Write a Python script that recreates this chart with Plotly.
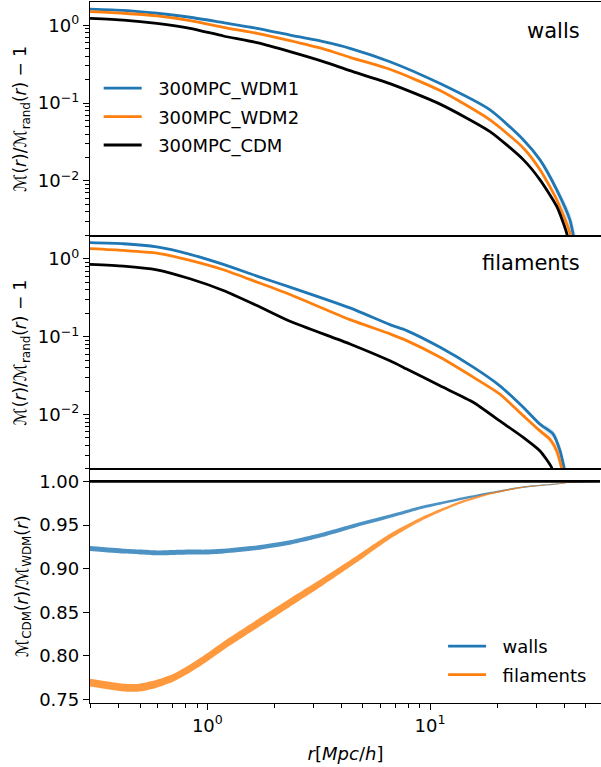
import plotly.graph_objects as go
from plotly.subplots import make_subplots

# ---------------- data: walls ----------------
r_walls_wdm1 = [0.297, 0.420, 0.593, 0.836, 1.18, 1.67, 2.35, 3.32, 4.37, 6.61, 11.1, 18.6, 26.3, 31.2, 37.1, 42.5, 44.0, 45.0]
walls_wdm1 = [1.62, 1.56, 1.43, 1.27, 1.08, 0.915, 0.75, 0.616, 0.506, 0.34, 0.178, 0.0817, 0.0336, 0.0186, 0.00766, 0.00315, 0.00203, 0.0015]
walls_wdm1_relerr = [0, 0, 0, 0, 0, 0, 0, 0, 0, 0, 0, 0.01, 0.03, 0.06, 0.12, 0.25, 0.35, 0.4]
r_walls_wdm2 = [0.297, 0.420, 0.593, 0.836, 1.18, 1.67, 2.35, 3.32, 4.37, 6.61, 11.1, 18.6, 26.3, 31.2, 37.1, 42.5, 43.5]
walls_wdm2 = [1.50, 1.43, 1.32, 1.15, 0.942, 0.789, 0.635, 0.497, 0.388, 0.272, 0.145, 0.0608, 0.0263, 0.0139, 0.00571, 0.00214, 0.0015]
walls_wdm2_relerr = [0, 0, 0, 0, 0, 0, 0, 0, 0, 0, 0, 0.01, 0.03, 0.05, 0.1, 0.2, 0.3]
r_walls_cdm = [0.297, 0.420, 0.593, 0.836, 1.18, 1.67, 2.35, 3.32, 4.37, 6.61, 11.1, 18.6, 26.3, 31.2, 37.1, 41.1, 42.0]
walls_cdm = [1.23, 1.17, 1.06, 0.915, 0.729, 0.598, 0.458, 0.341, 0.261, 0.178, 0.097, 0.043, 0.0186, 0.0103, 0.00468, 0.00213, 0.0015]
walls_cdm_relerr = [0, 0, 0, 0, 0, 0, 0, 0, 0, 0, 0, 0.01, 0.02, 0.04, 0.08, 0.15, 0.2]

# ---------------- data: filaments ----------------
r_fil_wdm1 = [0.297, 0.420, 0.593, 0.836, 1.18, 1.67, 2.35, 4.37, 6.61, 7.86, 11.1, 15.7, 20.6, 26.3, 31.2, 35.8, 38.4, 40.0, 41.0]
fil_wdm1 = [1.62, 1.57, 1.43, 1.15, 0.853, 0.603, 0.435, 0.235, 0.143, 0.12, 0.0731, 0.0404, 0.0234, 0.0123, 0.0075, 0.00557, 0.0034, 0.00207, 0.0015]
fil_wdm1_relerr = [0, 0, 0, 0, 0, 0, 0, 0, 0, 0, 0, 0, 0.02, 0.04, 0.07, 0.12, 0.2, 0.3, 0.35]
r_fil_wdm2 = [0.297, 0.420, 0.593, 0.836, 1.18, 1.67, 2.35, 4.37, 6.61, 7.86, 11.1, 15.7, 20.6, 26.3, 31.2, 34.6, 37.1, 39.0, 40.0]
fil_wdm2 = [1.36, 1.29, 1.19, 0.96, 0.727, 0.505, 0.35, 0.166, 0.109, 0.0891, 0.0544, 0.030, 0.0183, 0.0096, 0.00615, 0.0048, 0.0034, 0.00207, 0.0015]
fil_wdm2_relerr = [0, 0, 0, 0, 0, 0, 0, 0, 0, 0, 0, 0, 0.02, 0.04, 0.06, 0.1, 0.15, 0.25, 0.3]
r_fil_cdm = [0.297, 0.420, 0.593, 0.836, 1.18, 1.67, 2.35, 4.37, 6.61, 7.86, 11.1, 15.7, 20.6, 26.3, 31.2, 35.2, 36.0]
fil_cdm = [0.853, 0.811, 0.727, 0.557, 0.394, 0.252, 0.158, 0.0807, 0.049, 0.0384, 0.0234, 0.0143, 0.00826, 0.00505, 0.0034, 0.00207, 0.0015]
fil_cdm_relerr = [0, 0, 0, 0, 0, 0, 0, 0, 0, 0, 0, 0, 0.01, 0.02, 0.04, 0.08, 0.1]

# ---------------- data: ratio CDM / WDM ----------------
r_ratio = [0.297, 0.420, 0.499, 0.593, 0.705, 0.836, 0.994, 1.18, 1.67, 2.35, 3.32, 4.69, 6.61, 9.33, 13.2, 18.6, 26.3, 37.1, 44.0, 58.0]
ratio_walls = [0.923, 0.920, 0.919, 0.918, 0.9185, 0.919, 0.919, 0.920, 0.924, 0.930, 0.939, 0.950, 0.960, 0.9706, 0.979, 0.9866, 0.9935, 0.997, 0.999, 1.0]
ratio_walls_err = [0.0028, 0.0028, 0.0028, 0.0028, 0.0028, 0.0028, 0.0028, 0.0027, 0.0026, 0.0025, 0.0024, 0.0022, 0.002, 0.0017, 0.0014, 0.0011, 0.0008, 0.0005, 0.0004, 0.0003]
ratio_fil = [0.7694, 0.7637, 0.7637, 0.768, 0.775, 0.7855, 0.798, 0.8115, 0.8365, 0.861, 0.8855, 0.911, 0.937, 0.958, 0.9744, 0.9859, 0.9935, 0.997, 0.999, 1.0]
ratio_fil_err = [0.0045, 0.0045, 0.0045, 0.0045, 0.0045, 0.0046, 0.0047, 0.0048, 0.0048, 0.0047, 0.0043, 0.0038, 0.003, 0.002, 0.0015, 0.001, 0.0007, 0.0004, 0.0003, 0.0002]
r_ref = [0.297, 58.0]
ratio_ref = [1.0, 1.0]

# tick labels
y_log_tickvals = [0.01, 0.1, 1]
y_log_ticktext = ["10<sup>\u22122</sup>", "10<sup>\u22121</sup>", "10<sup>0</sup>"]
y_log_minor = [k * 10.0 ** e for e in (-3, -2, -1) for k in range(2, 10)] + [2]
x_tickvals = [1, 10]
x_ticktext = ["10<sup>0</sup>", "10<sup>1</sup>"]
x_minor = [0.3, 0.4, 0.5, 0.6, 0.7, 0.8, 0.9, 2, 3, 4, 5, 6, 7, 8, 9, 20, 30, 40, 50]
ratio_tickvals = [0.75, 0.80, 0.85, 0.90, 0.95, 1.00]
ratio_ticktext = ["0.75", "0.80", "0.85", "0.90", "0.95", "1.00"]

BLUE = "#1f77b4"
ORANGE = "#ff7f0e"
FONT = "DejaVu Sans"
SP = "\u00a0\u00a0"

fig = make_subplots(rows=3, cols=1, shared_xaxes=True, vertical_spacing=0)

LW = 2.8
SPL = dict(shape="spline", smoothing=0.6)
groups = [("300MPC_WDM1", BLUE, "rgba(31,119,180,0.18)"),
          ("300MPC_WDM2", ORANGE, "rgba(255,127,14,0.18)"),
          ("300MPC_CDM", "black", "rgba(0,0,0,0.12)")]
walls = [(r_walls_wdm1, walls_wdm1, walls_wdm1_relerr), (r_walls_wdm2, walls_wdm2, walls_wdm2_relerr),
         (r_walls_cdm, walls_cdm, walls_cdm_relerr)]
fils = [(r_fil_wdm1, fil_wdm1, fil_wdm1_relerr), (r_fil_wdm2, fil_wdm2, fil_wdm2_relerr),
        (r_fil_cdm, fil_cdm, fil_cdm_relerr)]

for row, series in ((1, walls), (2, fils)):
    # faint error bands
    for (name, col, band), (rx, ry, re) in zip(groups, series):
        up = [v * (1 + e) for v, e in zip(ry, re)]
        lo = [v * (1 - e) for v, e in zip(ry, re)]
        fig.add_trace(go.Scatter(x=rx, y=up, mode="lines", line=dict(width=0, color=band, **SPL),
                                 showlegend=False, hoverinfo="skip"), row=row, col=1)
        fig.add_trace(go.Scatter(x=rx, y=lo, mode="lines", line=dict(width=0, color=band, **SPL),
                                 fill="tonexty", fillcolor=band, showlegend=False, hoverinfo="skip"), row=row, col=1)
    for (name, col, band), (rx, ry, re) in zip(groups, series):
        fig.add_trace(go.Scatter(x=rx, y=ry, mode="lines", name=SP + name, legendgroup=name,
                                 showlegend=(row == 1), line=dict(color=col, width=LW, **SPL),
                                 legend="legend"), row=row, col=1)

# ratio bands
for vals, errs, col, fillc, name in [
    (ratio_walls, ratio_walls_err, BLUE, "rgba(31,119,180,0.8)", "walls"),
    (ratio_fil, ratio_fil_err, ORANGE, "rgba(255,127,14,0.8)", "filaments"),
]:
    up = [v + e for v, e in zip(vals, errs)]
    lo = [v - e for v, e in zip(vals, errs)]
    fig.add_trace(go.Scatter(x=r_ratio, y=up, mode="lines", line=dict(width=0, color=fillc, **SPL),
                             showlegend=False, hoverinfo="skip"), row=3, col=1)
    fig.add_trace(go.Scatter(x=r_ratio, y=lo, mode="lines", line=dict(width=0, color=fillc, **SPL),
                             fill="tonexty", fillcolor=fillc, showlegend=False, hoverinfo="skip"), row=3, col=1)
    fig.add_trace(go.Scatter(x=[None], y=[None], mode="lines", name=SP + name, legendgroup="r" + name,
                             line=dict(color=col, width=LW), legend="legend2"), row=3, col=1)

fig.add_trace(go.Scatter(x=r_ref, y=ratio_ref, mode="lines", line=dict(color="black", width=2.8),
                         showlegend=False), row=3, col=1)

axis_common = dict(showline=True, linecolor="black", linewidth=1.3, mirror=True, automargin=False,
                   showgrid=False, zeroline=False, tickcolor="black", tickwidth=1.3,
                   tickfont=dict(family=FONT, size=18, color="black"))
for i in (1, 2, 3):
    fig.update_xaxes(type="log", range=[-0.527, 1.768], **axis_common, row=i, col=1)
fig.update_xaxes(ticks="", showticklabels=False, row=1, col=1)
fig.update_xaxes(ticks="", showticklabels=False, row=2, col=1)
fig.update_xaxes(ticks="outside", ticklen=6, tickvals=x_tickvals, ticktext=x_ticktext,
                 minor=dict(ticks="outside", ticklen=3.5, tickvals=x_minor, tickcolor="black", tickwidth=1),
                 title=dict(text="<i>r</i>[<i>Mpc</i>/<i>h</i>]", font=dict(family=FONT, size=18, color="black"), standoff=12),
                 row=3, col=1)

ytitle = "\u2133(<i>r</i>)/\u2133<sub>rand</sub>(<i>r</i>) \u2212 1"
for i in (1, 2):
    fig.update_yaxes(type="log", range=[-2.705, 0.3], ticks="outside", ticklen=6,
                     tickvals=y_log_tickvals, ticktext=y_log_ticktext,
                     minor=dict(ticks="outside", ticklen=3.5, tickvals=y_log_minor, tickcolor="black", tickwidth=1),
                     title=dict(text=ytitle, font=dict(family=FONT, size=17, color="black"), standoff=6),
                     **axis_common, row=i, col=1)
fig.update_yaxes(range=[0.746, 1.0138], ticks="outside", ticklen=6,
                 tickvals=ratio_tickvals, ticktext=ratio_ticktext,
                 title=dict(text="\u2133<sub>CDM</sub>(<i>r</i>)/\u2133<sub>WDM</sub>(<i>r</i>)",
                            font=dict(family=FONT, size=17, color="black"), standoff=6),
                 **axis_common, row=3, col=1)

fig.update_layout(
    width=601, height=767,
    margin=dict(l=90, r=0, t=2, b=64),
    paper_bgcolor="white", plot_bgcolor="white",
    font=dict(family=FONT, color="black"),
    legend=dict(x=0.017, y=0.903, xanchor="left", yanchor="top", bgcolor="rgba(0,0,0,0)",
                font=dict(family=FONT, size=18, color="black"), tracegroupgap=2, itemwidth=38),
    legend2=dict(x=0.691, y=0.107, xanchor="left", yanchor="top", bgcolor="rgba(0,0,0,0)",
                 font=dict(family=FONT, size=18, color="black"), tracegroupgap=2, itemwidth=38),
    annotations=[
        dict(text="walls", xref="paper", yref="paper", x=0.963, y=0.9586, xanchor="right", yanchor="middle",
             showarrow=False, font=dict(family=FONT, size=21, color="black")),
        dict(text="filaments", xref="paper", yref="paper", x=0.963, y=0.628, xanchor="right", yanchor="middle",
             showarrow=False, font=dict(family=FONT, size=21, color="black")),
    ],
)

fig.write_html("out.html", config={"displayModeBar": False},
               post_script="document.body.style.margin='0px';document.body.style.overflow='hidden';")
